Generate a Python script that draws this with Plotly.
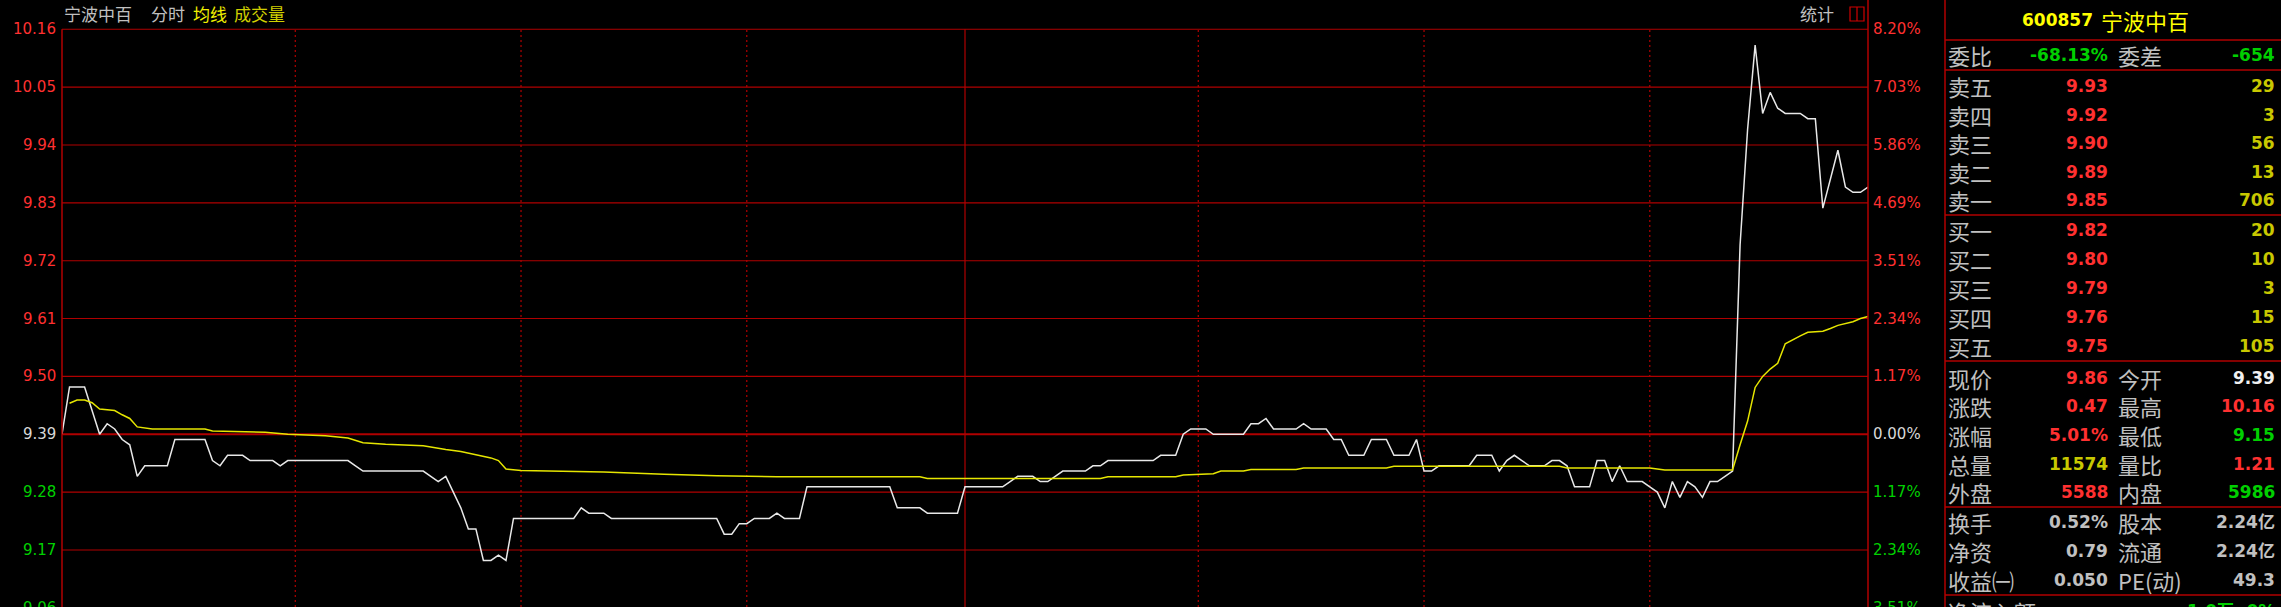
import plotly.graph_objects as go

# ---------------- data ----------------
prev_close = 9.39
price_min = [0, 1, 3, 5, 6, 7, 8, 9, 10, 11, 14, 15, 19, 20, 21, 22, 24, 25, 28, 29, 30, 38, 39, 40, 48, 50, 51,
             53, 54, 55, 56, 57, 58, 59, 60, 68, 69, 70, 72, 73, 87, 88, 89, 90, 91, 92, 94, 95, 96, 98, 99,
             110, 111, 114, 115, 119, 120, 125, 126, 127, 129, 130, 131, 132, 133, 136, 137, 138, 139, 145,
             146, 148, 149, 150, 152, 153, 157, 158, 159, 160, 161, 164, 165, 166, 168, 169, 170, 171, 173,
             174, 176, 177, 179, 180, 181, 182, 183, 187, 188, 190, 191, 192, 193, 194, 195, 197, 198, 199,
             200, 201, 203, 204, 205, 206, 207, 208, 210, 211, 212, 213, 214, 215, 216, 217, 218, 219, 220,
             221, 222, 223, 224, 225, 226, 227, 228, 229, 231, 232, 233, 234, 236, 237, 238, 239, 240]
price = [9.39, 9.48, 9.48, 9.39, 9.41, 9.40, 9.38, 9.37, 9.31, 9.33, 9.33, 9.38, 9.38, 9.34, 9.33, 9.35, 9.35,
         9.34, 9.34, 9.33, 9.34, 9.34, 9.33, 9.32, 9.32, 9.30, 9.31,
         9.25, 9.21, 9.21, 9.15, 9.15, 9.16, 9.15, 9.23, 9.23, 9.25, 9.24, 9.24, 9.23, 9.23, 9.20, 9.20, 9.22,
         9.22, 9.23, 9.23, 9.24, 9.23, 9.23, 9.29,
         9.29, 9.25, 9.25, 9.24, 9.24, 9.29, 9.29, 9.30, 9.31, 9.31, 9.30, 9.30, 9.31, 9.32, 9.32, 9.33, 9.33,
         9.34, 9.34,
         9.35, 9.35, 9.39, 9.40, 9.40, 9.39, 9.39, 9.41, 9.41, 9.42, 9.40, 9.40, 9.41, 9.40, 9.40, 9.38, 9.38,
         9.35, 9.35,
         9.38, 9.38, 9.35, 9.35, 9.38, 9.32, 9.32, 9.33, 9.33, 9.35, 9.35, 9.32, 9.34, 9.35, 9.34, 9.33, 9.33,
         9.34, 9.34,
         9.33, 9.29, 9.29, 9.34, 9.34, 9.30, 9.33, 9.30, 9.30, 9.29, 9.28, 9.25, 9.30, 9.27, 9.30, 9.29, 9.27,
         9.30, 9.30,
         9.31, 9.32, 9.75, 9.97, 10.13, 10.00, 10.04, 10.01, 10.00, 10.00, 9.99, 9.99, 9.82, 9.93, 9.86, 9.85,
         9.85, 9.86]

avg_min = [1, 2, 3, 4, 5, 7, 8, 9, 10, 11, 12, 19, 20, 27, 30, 35, 38, 40, 43, 48, 50, 51, 53, 56, 57, 58, 59,
           61, 72, 80, 87, 95, 114, 115, 138, 139, 148, 149, 153, 154, 157, 158, 164, 165, 176, 177, 199, 200,
           211, 213, 222, 223, 224, 225, 226, 227, 228, 229, 230, 231, 232, 234, 235, 236, 238, 239, 240]
avg = [9.449, 9.455, 9.455, 9.450, 9.438, 9.435, 9.427, 9.420, 9.404, 9.402, 9.400, 9.400, 9.396, 9.394, 9.390,
       9.387, 9.383, 9.374, 9.371, 9.368, 9.363, 9.361, 9.357, 9.347, 9.345, 9.340, 9.324,
       9.321, 9.318, 9.314, 9.311, 9.309, 9.309, 9.306, 9.306, 9.309, 9.309, 9.3125, 9.315, 9.320, 9.320, 9.323,
       9.323, 9.326, 9.326, 9.329, 9.329, 9.326,
       9.326, 9.322, 9.322, 9.370, 9.415, 9.479, 9.500, 9.514, 9.525, 9.562, 9.570, 9.577, 9.584, 9.586, 9.591,
       9.597, 9.604, 9.610, 9.614]

price_levels = [10.16, 10.05, 9.94, 9.83, 9.72, 9.61, 9.50, 9.39, 9.28, 9.17, 9.06]
price_labels = ["10.16", "10.05", "9.94", "9.83", "9.72", "9.61", "9.50", "9.39", "9.28", "9.17", "9.06"]
pct_labels = ["8.20%", "7.03%", "5.86%", "4.69%", "3.51%", "2.34%", "1.17%", "0.00%", "1.17%", "2.34%", "3.51%"]
time_grid = [31, 61, 91, 151, 181, 211]
mid_grid = 120

stock_code = "600857"
stock_name = "宁波中百"
weibi = ("委比", "-68.13%", "委差", "-654")
sell_labels = ["卖五", "卖四", "卖三", "卖二", "卖一"]
sell_prices = ["9.93", "9.92", "9.90", "9.89", "9.85"]
sell_vols = ["29", "3", "56", "13", "706"]
buy_labels = ["买一", "买二", "买三", "买四", "买五"]
buy_prices = ["9.82", "9.80", "9.79", "9.76", "9.75"]
buy_vols = ["20", "10", "3", "15", "105"]
stat_labels_l = ["现价", "涨跌", "涨幅", "总量", "外盘"]
stat_vals_l = ["9.86", "0.47", "5.01%", "11574", "5588"]
stat_labels_r = ["今开", "最高", "最低", "量比", "内盘"]
stat_vals_r = ["9.39", "10.16", "9.15", "1.21", "5986"]
info_labels_l = ["换手", "净资", "收益㈠"]
info_vals_l = ["0.52%", "0.79", "0.050"]
info_labels_r = ["股本", "流通", "PE(动)"]
info_vals_r = ["2.24亿", "2.24亿", "49.3"]

# ---------------- style ----------------
W, H = 2281, 607
PW, PH = 1806, 579
ML, MT = 62, 28
MR, MB = W - ML - PW, H - MT - PH
YMAX, YMIN = 10.1625, 9.0615

GRID = "#b00000"
RED = "#ff3030"
GREEN = "#00d000"
GREY = "#c0c0c0"
OLIVE = "#c8c800"
YEL = "#ffff00"
WHITE = "#f0f0f0"
CJK = "Noto Sans CJK SC"
NUM = "DejaVu Sans"


def px_x(X):
    return (X - ML) / PW


def px_y(Y):
    return 1 - (Y - MT) / PH


def price_y(p):
    return (p - YMIN) / (YMAX - YMIN)


fig = go.Figure()
fig.add_trace(go.Scatter(x=price_min, y=price, mode="lines",
                         line=dict(color="#e8e8e8", width=1.5), hoverinfo="skip"))
fig.add_trace(go.Scatter(x=avg_min, y=avg, mode="lines",
                         line=dict(color="#e6e600", width=1.5), hoverinfo="skip"))

shapes = []
for lv in price_levels:
    shapes.append(dict(type="line", xref="paper", yref="y", x0=0, x1=1, y0=lv, y1=lv,
                       line=dict(color=GRID, width=2.2 if abs(lv - prev_close) < 1e-9 else 1.1), layer="below"))
for t in time_grid:
    shapes.append(dict(type="line", xref="x", yref="paper", x0=t, x1=t, y0=0, y1=price_y(price_levels[0]),
                       line=dict(color=GRID, width=1.2, dash="2px,3px"), layer="below"))
shapes.append(dict(type="line", xref="x", yref="paper", x0=mid_grid, x1=mid_grid, y0=0,
                   y1=price_y(price_levels[0]), line=dict(color=GRID, width=1.2), layer="below"))
# borders
shapes.append(dict(type="line", xref="paper", yref="paper", x0=0, x1=0, y0=0, y1=price_y(price_levels[0]),
                   line=dict(color=GRID, width=1.5)))
shapes.append(dict(type="line", xref="paper", yref="paper", x0=1, x1=1, y0=0, y1=px_y(0),
                   line=dict(color=GRID, width=1.5)))
shapes.append(dict(type="line", xref="paper", yref="paper", x0=px_x(1945), x1=px_x(1945), y0=0, y1=px_y(0),
                   line=dict(color=GRID, width=1.5)))
for Y in [40, 70, 215, 361, 507, 595]:
    shapes.append(dict(type="line", xref="paper", yref="paper", x0=px_x(1945), x1=px_x(2281), y0=px_y(Y),
                       y1=px_y(Y), line=dict(color=GRID, width=1.5)))
# small icon near 统计
shapes.append(dict(type="rect", xref="paper", yref="paper", x0=px_x(1850), x1=px_x(1864), y0=px_y(21),
                   y1=px_y(7), line=dict(color="#d00000", width=1.2)))
shapes.append(dict(type="line", xref="paper", yref="paper", x0=px_x(1857), x1=px_x(1857), y0=px_y(21),
                   y1=px_y(7), line=dict(color="#d00000", width=1.2)))

ann = []


def txt(text, X, Y, color, size, family, anchor="left", bold=False):
    ann.append(dict(text=("<b>%s</b>" % text) if bold else text, xref="paper", yref="paper",
                    x=px_x(X), y=px_y(Y), xanchor=anchor, yanchor="middle", showarrow=False,
                    font=dict(color=color, size=size, family=family), borderpad=0))


# axis labels
for lv, pl, pc in zip(price_levels, price_labels, pct_labels):
    if lv > prev_close + 1e-9:
        c = RED
    elif abs(lv - prev_close) < 1e-9:
        c = "#d8d8d8"
    else:
        c = GREEN
    yp = price_y(lv)
    ann.append(dict(text=pl, xref="paper", yref="paper", x=px_x(57), y=yp, xanchor="right", yanchor="middle",
                    showarrow=False, font=dict(color=c, size=15, family=NUM), borderpad=0))
    ann.append(dict(text=pc, xref="paper", yref="paper", x=px_x(1872), y=yp, xanchor="left", yanchor="middle",
                    showarrow=False, font=dict(color=c, size=15, family=NUM), borderpad=0))

# header
txt(stock_name, 63, 14, GREY, 17, CJK)
txt("分时", 150, 14, GREY, 17, CJK)
txt("均线", 192, 14, "#f0f000", 17, CJK)
txt("成交量", 233, 14, "#d0d000", 17, CJK)
txt("统计", 1799, 14, GREY, 17, CJK)

# right panel
txt(stock_code, 2094, 20, YEL, 17, NUM, anchor="right", bold=True)
txt(stock_name, 2100, 20, YEL, 22, CJK)
txt(weibi[0], 1947, 55, GREY, 22, CJK)
txt(weibi[1], 2109, 55, GREEN, 17, NUM, anchor="right", bold=True)
txt(weibi[2], 2117, 55, GREY, 22, CJK)
txt(weibi[3], 2276, 55, GREEN, 17, NUM, anchor="right", bold=True)

sell_y = [86, 115, 143, 172, 200]
for lab, p, v, Y in zip(sell_labels, sell_prices, sell_vols, sell_y):
    txt(lab, 1947, Y, GREY, 22, CJK)
    txt(p, 2109, Y, RED, 17, NUM, anchor="right", bold=True)
    txt(v, 2276, Y, OLIVE, 17, NUM, anchor="right", bold=True)
buy_y = [230, 259, 288, 317, 346]
for lab, p, v, Y in zip(buy_labels, buy_prices, buy_vols, buy_y):
    txt(lab, 1947, Y, GREY, 22, CJK)
    txt(p, 2109, Y, RED, 17, NUM, anchor="right", bold=True)
    txt(v, 2276, Y, OLIVE, 17, NUM, anchor="right", bold=True)

stat_y = [378, 406, 435, 464, 492]
stat_col_l = [RED, RED, RED, OLIVE, RED]
stat_col_r = [WHITE, RED, GREEN, RED, GREEN]
for i, Y in enumerate(stat_y):
    txt(stat_labels_l[i], 1947, Y, GREY, 22, CJK)
    txt(stat_vals_l[i], 2109, Y, stat_col_l[i], 17, NUM, anchor="right", bold=True)
    txt(stat_labels_r[i], 2117, Y, GREY, 22, CJK)
    txt(stat_vals_r[i], 2276, Y, stat_col_r[i], 17, NUM, anchor="right", bold=True)

info_y = [522, 551, 580]
for i, Y in enumerate(info_y):
    txt(info_labels_l[i], 1947, Y, GREY, 22, CJK)
    txt(info_vals_l[i], 2109, Y, GREY, 17, NUM + ", " + CJK, anchor="right", bold=True)
    txt(info_labels_r[i], 2117, Y, GREY, 22, CJK)
    txt(info_vals_r[i], 2276, Y, GREY, 17, NUM + ", " + CJK, anchor="right", bold=True)

txt("净流入额", 1947, 611, GREY, 22, CJK)
txt("1.0万 .0%", 2276, 611, GREEN, 17, NUM + ", " + CJK, anchor="right", bold=True)

fig.update_layout(
    width=W, height=H, paper_bgcolor="black", plot_bgcolor="black",
    margin=dict(l=ML, r=MR, t=MT, b=MB, pad=0), showlegend=False,
    xaxis=dict(range=[0, 240], visible=False, fixedrange=True),
    yaxis=dict(range=[YMIN, YMAX], visible=False, fixedrange=True),
    shapes=shapes, annotations=ann,
)
fig.write_html(
    "out.html",
    config={"displayModeBar": False, "staticPlot": True},
    post_script="document.body.style.margin='0';document.body.style.overflow='hidden';"
                "document.body.style.background='black';",
)
